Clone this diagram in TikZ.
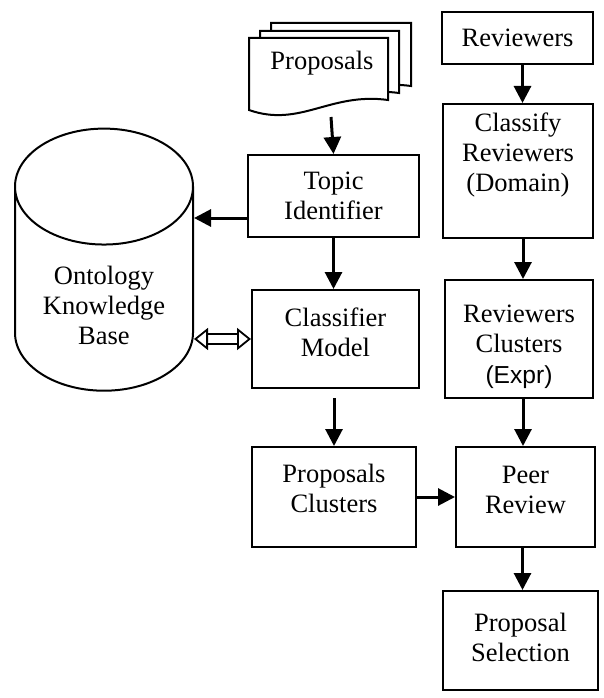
\documentclass[tikz,border=0pt]{standalone}
\usepackage{fontspec}
\setmainfont{Liberation Serif}
\newfontfamily\arialfont{Liberation Sans}
\usetikzlibrary{shapes.geometric,arrows.meta}

\begin{document}
\begin{tikzpicture}[x=1pt,y=-1pt,
        font=\fontsize{26.5}{30}\selectfont,
        box/.style={draw, line width=2pt, align=center, inner sep=0pt},
        arr/.style={line width=3pt, -{Triangle[length=17pt,width=17pt]}},
        dbl/.style={double, double distance=8pt, line width=1.8pt,
            {Triangle[open,length=14pt,width=22pt]}-{Triangle[open,length=14pt,width=22pt]}}]
        
        \useasboundingbox (0,0) rectangle (604,698);
        
        % proposals pages
        \draw[line width=2pt, fill=white] (271,23) -- (411,23) -- (411,86) .. controls (353,78) and (323,113) .. (271,96) -- cycle;
        \draw[line width=2pt, fill=white] (260,31) -- (399,31) -- (399,93) .. controls (341,85) and (311,120) .. (260,103) -- cycle;
        \draw[line width=2pt, fill=white] (249,38) -- (388,38) -- (388,100) .. controls (330,92) and (300,128) .. (249,110) -- cycle;
        \node (prop) at (322,63) {Proposals};
        \coordinate (docb) at (331,117);
        
        % left column
        \node[box, minimum width=171pt, minimum height=82pt] (topic) at (333.5,196) {Topic\\Identifier};
        \node[box, minimum width=167pt, minimum height=98pt, text depth=14pt] (clf) at (335.5,339) {Classifier\\Model};
        \node[box, minimum width=164pt, minimum height=100pt, text depth=18pt] (clus) at (334,497) {Proposals\\Clusters};
        
        % knowledge base
        \node[draw, line width=2pt, cylinder, shape border rotate=90, aspect=0.9,
            minimum width=178pt, minimum height=224pt, align=center] (kb) at (104,297) {\rule{0pt}{36pt}Ontology\\Knowledge\\Base};
        
        % right column
        \node[box, minimum width=151pt, minimum height=52pt] (rev) at (517.5,38) {Reviewers};
        \node[box, minimum width=150pt, minimum height=134pt, text depth=37pt] (crev) at (518,171) {Classify\\Reviewers\\(Domain)};
        \node[box, minimum width=148pt, minimum height=118pt] (rcl) at (519,339) {\rule{0pt}{34pt}Reviewers\\Clusters\\[1pt]{\arialfont\fontsize{24.6}{28}\selectfont(Expr)}};
        \node[box, minimum width=139pt, minimum height=100pt, text depth=14pt] (peer) at (525.5,497) {Peer\\Review};
        \node[box, minimum width=155pt, minimum height=99pt, text depth=6pt] (sel) at (520.5,640.5) {Proposal\\Selection};
        
        % arrows
        \draw[arr] (docb) -- (topic.north);
        \draw[arr] ([yshift=-22pt]topic.west) -- ([yshift=-22pt]topic.west -| kb.east);
        \draw[arr] (topic.south) -- (topic.south |- clf.north);
        \draw[dbl] (clf.west -| kb.east) -- (clf.west);
        \draw[arr] ([yshift=-9pt]clf.south -| clus.north) -- (clus.north);
        \draw[arr] (clus.east) -- (clus.east -| peer.west);
        
        \draw[arr] ([xshift=5pt]rev.south) -- ([xshift=5pt]rev.south |- crev.north);
        \draw[arr] ([xshift=5pt]crev.south) -- ([xshift=5pt]crev.south |- rcl.north);
        \draw[arr] ([xshift=4pt]rcl.south) -- ([xshift=4pt]rcl.south |- peer.north);
        \draw[arr] ([xshift=-3pt]peer.south) -- ([xshift=-3pt]peer.south |- sel.north);
    \end{tikzpicture}
\end{document}
